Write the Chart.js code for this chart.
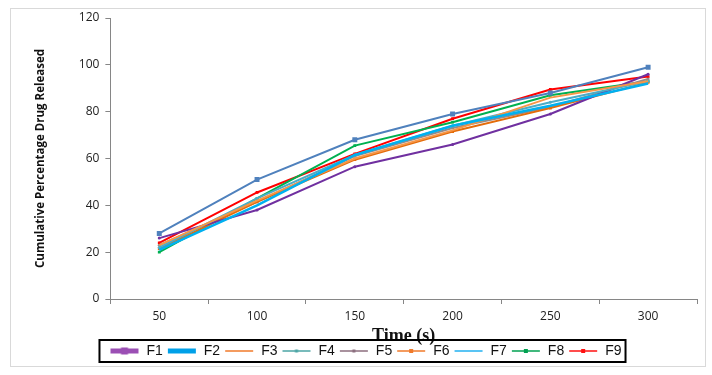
<!doctype html>
<html lang="en">
<head>
    <meta charset="utf-8">
    <title>Cumulative Drug Release</title>
    <script src="https://cdn.jsdelivr.net/npm/chart.js"></script>
    <style>
        html, body { margin: 0; padding: 0; background: #fff; }
        .wrap { position: relative; width: 712px; height: 375px; }
    </style>
</head>
<body>
    <div class="wrap">
        <canvas id="releaseChart" width="712" height="375"></canvas>
    </div>

    <script>
        // data
        const timeLabels = ['50', '100', '150', '200', '250', '300'];
        const seriesNames = ['F1', 'F2', 'F3', 'F4', 'F5', 'F6', 'F7', 'F8', 'F9'];
        const f1 = [28, 51, 68, 79, 88, 99];
        const f2 = [21, 40, 61.5, 74, 82.5, 92];
        const f3 = [23, 42, 60, 72, 86, 93];
        const f4 = [22, 43, 61.5, 74, 84, 93];
        const f5 = [26, 38, 56.5, 66, 79, 96];
        const f6 = [21.5, 41.5, 59.5, 71.5, 81.5, 92.5];
        const f7 = [23, 41.5, 61, 73, 82, 94];
        const f8 = [20, 43, 65.5, 75.5, 87, 93];
        const f9 = [24, 45.5, 62, 77, 89.5, 95];
        const seriesValues = [f1, f2, f3, f4, f5, f6, f7, f8, f9];

        // line styles in the plot
        const lineStyles = [
            { color: '#4F81BD', width: 2, point: 'rect', radius: 3.5 },
            { color: '#00B0F0', width: 2.5, point: 'circle', radius: 0 },
            { color: '#F79646', width: 2, point: 'circle', radius: 0 },
            { color: '#4BACC6', width: 2, point: 'circle', radius: 1.5 },
            { color: '#7030A0', width: 2, point: 'circle', radius: 1.5 },
            { color: '#E46C0A', width: 2, point: 'rect', radius: 2 },
            { color: '#948A8A', width: 2, point: 'circle', radius: 1.5 },
            { color: '#00B050', width: 2, point: 'rect', radius: 2 },
            { color: '#FF0000', width: 2, point: 'rect', radius: 2 }
        ];

        // how the legend swatches look in the reference
        const legendStyles = [
            { color: '#9B4FB4', width: 5, marker: 7 },
            { color: '#00A0E8', width: 5, marker: 0 },
            { color: '#F07A2A', width: 1.5, marker: 0 },
            { color: '#4BA5A5', width: 1.5, marker: 3 },
            { color: '#8C6E7E', width: 1.5, marker: 3 },
            { color: '#F07A2A', width: 1.5, marker: 4 },
            { color: '#22B0F0', width: 1.5, marker: 0 },
            { color: '#00A050', width: 1.5, marker: 4 },
            { color: '#FF1010', width: 1.5, marker: 4 }
        ];

        const makeSwatch = (st) => {
            const c = document.createElement('canvas');
            c.width = 30;
            c.height = 10;
            const g = c.getContext('2d');
            g.strokeStyle = st.color;
            g.lineWidth = st.width;
            g.beginPath();
            g.moveTo(1, 5);
            g.lineTo(29, 5);
            g.stroke();
            if (st.marker) {
                g.fillStyle = st.color;
                g.fillRect(15 - st.marker / 2, 5 - st.marker / 2, st.marker, st.marker);
            }
            return c;
        };
        const swatches = legendStyles.map(makeSwatch);

        const datasets = seriesNames.map((name, i) => ({
            label: name,
            data: seriesValues[i],
            borderColor: lineStyles[i].color,
            backgroundColor: lineStyles[i].color,
            borderWidth: lineStyles[i].width,
            pointStyle: lineStyles[i].point,
            pointRadius: lineStyles[i].radius,
            pointBorderWidth: 0,
            tension: 0,
            fill: false
        }));

        // outer chart frame + black frame round the legend
        const framePlugin = {
            id: 'frames',
            afterDraw(chart) {
                const ctx = chart.ctx;
                ctx.save();
                ctx.strokeStyle = '#D9D9D9';
                ctx.lineWidth = 1;
                ctx.strokeRect(10.5, 8.5, 695, 358);
                const boxes = chart.legend.legendHitBoxes;
                if (boxes && boxes.length) {
                    const x0 = Math.min(...boxes.map(b => b.left)) - 10;
                    const x1 = Math.max(...boxes.map(b => b.left + b.width)) + 4;
                    const y0 = Math.min(...boxes.map(b => b.top)) - 4;
                    const y1 = Math.max(...boxes.map(b => b.top + b.height)) + 4;
                    ctx.strokeStyle = '#000';
                    ctx.lineWidth = 2;
                    ctx.strokeRect(x0, y0, x1 - x0, y1 - y0);
                }
                ctx.restore();
            }
        };

        const ctx = document.getElementById('releaseChart').getContext('2d');
        new Chart(ctx, {
            type: 'line',
            data: { labels: timeLabels, datasets: datasets },
            plugins: [framePlugin],
            options: {
                responsive: false,
                animation: false,
                layout: { padding: { left: 34, right: 15, top: 18, bottom: 7 } },
                scales: {
                    x: {
                        offset: true,
                        grid: { display: true, drawOnChartArea: false, offset: true, tickLength: 5, color: '#868686' },
                        border: { color: '#868686' },
                        ticks: { color: '#222', font: { family: 'Open Sans', size: 12 }, padding: 5 },
                        title: {
                            display: true,
                            text: 'Time (s)',
                            color: '#111',
                            font: { family: 'Liberation Serif', size: 18, weight: 'bold' },
                            padding: { top: -3, bottom: -7 }
                        }
                    },
                    y: {
                        min: 0,
                        max: 120,
                        ticks: { stepSize: 20, color: '#222', font: { family: 'Open Sans', size: 12 }, padding: 6 },
                        grid: { display: true, drawOnChartArea: false, tickLength: 5, color: '#868686' },
                        border: { color: '#868686' },
                        title: {
                            display: true,
                            text: 'Cumulative Percentage Drug Released',
                            color: '#111',
                            font: { family: 'Open Sans', size: 11.5, weight: 'bold' },
                            padding: { top: 0, bottom: 25 }
                        }
                    }
                },
                plugins: {
                    legend: {
                        position: 'bottom',
                        labels: {
                            usePointStyle: true,
                            pointStyleWidth: 30,
                            boxHeight: 10,
                            padding: 4,
                            color: '#111',
                            font: { family: 'Liberation Sans Narrow, Liberation Sans', size: 14 },
                            generateLabels(chart) {
                                return chart.data.datasets.map((ds, i) => ({
                                    text: ds.label,
                                    pointStyle: swatches[i],
                                    fillStyle: legendStyles[i].color,
                                    strokeStyle: legendStyles[i].color,
                                    lineWidth: 0,
                                    fontColor: '#111',
                                    hidden: false,
                                    datasetIndex: i
                                }));
                            }
                        }
                    },
                    tooltip: { enabled: false }
                }
            }
        });
    </script>
</body>
</html>
